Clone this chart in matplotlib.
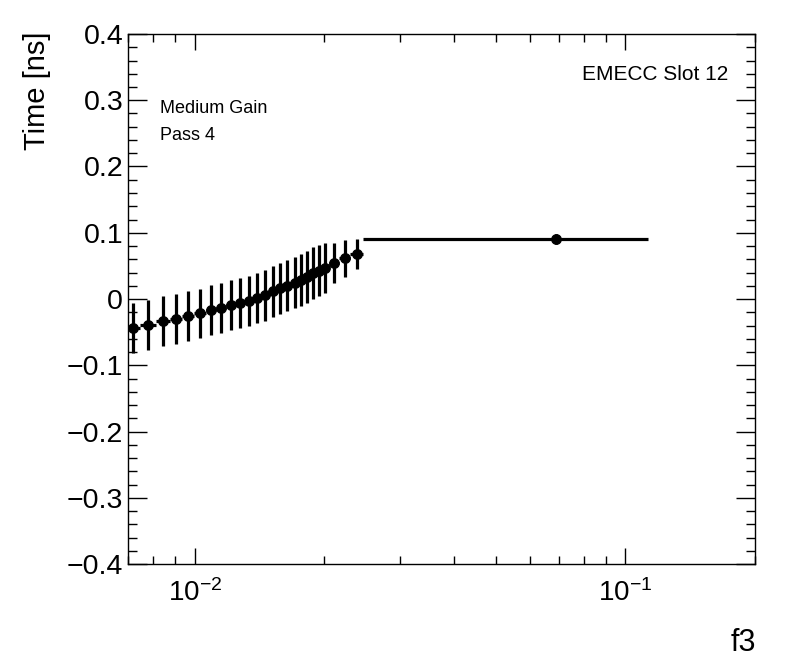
import numpy as np
import matplotlib
matplotlib.use("Agg")
import matplotlib.pyplot as plt
from matplotlib.ticker import LogLocator, LogFormatterMathtext, MultipleLocator, FuncFormatter, NullFormatter

plt.rcParams['font.family'] = ['Liberation Sans', 'DejaVu Sans']
plt.rcParams['mathtext.fontset'] = 'custom'
plt.rcParams['mathtext.rm'] = 'Liberation Sans'
plt.rcParams['mathtext.it'] = 'Liberation Sans:italic'
plt.rcParams['mathtext.bf'] = 'Liberation Sans:bold'

# bin edges in f3 (variable width, last bin is wide)
bin_edges = [0.00687, 0.00748, 0.00812, 0.00876, 0.00934, 0.00996, 0.0106, 0.01121,
             0.01183, 0.01245, 0.01305, 0.01366, 0.01429, 0.0149, 0.01549, 0.01609,
             0.01673, 0.01737, 0.01796, 0.01853, 0.01911, 0.01971, 0.02052, 0.02166,
             0.0230, 0.0246, 0.1131]
# mean time per bin [ns]
time_vals = [-0.0442, -0.0397, -0.0328, -0.0302, -0.0257, -0.0216, -0.0166, -0.0140,
             -0.0091, -0.0056, -0.0026, 0.0015, 0.0056, 0.0115, 0.0162, 0.0201,
             0.0246, 0.0287, 0.0337, 0.0388, 0.0428, 0.0472, 0.0539, 0.0614,
             0.0679, 0.0906]
time_errs = [0.0375, 0.0375, 0.0378, 0.0378, 0.0375, 0.0372, 0.0375, 0.0378,
             0.0378, 0.0380, 0.0380, 0.0382, 0.0382, 0.0385, 0.0385, 0.0385,
             0.0388, 0.0388, 0.0390, 0.0390, 0.0385, 0.0380, 0.030, 0.028,
             0.023, 0.007]

edges = np.array(bin_edges)
centers = (edges[:-1] + edges[1:]) / 2
half_w = (edges[1:] - edges[:-1]) / 2

fig = plt.figure(figsize=(7.96, 6.72), dpi=100)
ax = fig.add_axes([128 / 796, 1 - 564 / 672, (755 - 128) / 796, (564 - 34) / 672])

ax.errorbar(centers, time_vals, xerr=half_w, yerr=time_errs, fmt='o', color='black',
            markersize=6.8, elinewidth=2.3, capsize=0)

ax.set_xscale('log')
ax.set_xlim(0.007, 0.2)
ax.set_ylim(-0.4, 0.4)

ax.xaxis.set_major_locator(LogLocator(base=10))
ax.xaxis.set_minor_locator(LogLocator(base=10, subs=np.arange(2, 10)))
ax.xaxis.set_major_formatter(LogFormatterMathtext())
ax.xaxis.set_minor_formatter(NullFormatter())

ax.yaxis.set_major_locator(MultipleLocator(0.1))
ax.yaxis.set_minor_locator(MultipleLocator(0.02))
ax.yaxis.set_major_formatter(FuncFormatter(
    lambda v, p: '0' if abs(v) < 1e-9 else ('%.1f' % v).replace('-', '\u2212')))

ax.tick_params(axis='both', which='both', direction='in', top=True, right=True, width=1)
ax.tick_params(axis='x', which='major', length=11.5, pad=11, labelsize=20)
ax.tick_params(axis='x', which='minor', length=5.8)
ax.tick_params(axis='y', which='major', length=13.7, pad=3.5, labelsize=20.5)
ax.tick_params(axis='y', which='minor', length=6.8)
for s in ax.spines.values():
    s.set_linewidth(1)

fig.text(37 / 796, 1 - 31 / 672, 'Time [ns]', rotation=90, ha='center', va='top', fontsize=21)
fig.text(756 / 796, 1 - 651 / 672, 'f3', ha='right', va='baseline', fontsize=22)

fig.text(160 / 796, 1 - 113 / 672, 'Medium Gain', ha='left', va='baseline', fontsize=13)
fig.text(160 / 796, 1 - 140 / 672, 'Pass 4', ha='left', va='baseline', fontsize=13)
fig.text(728 / 796, 1 - 80 / 672, 'EMECC Slot 12', ha='right', va='baseline', fontsize=15)

fig.savefig('out.png', dpi=100)
